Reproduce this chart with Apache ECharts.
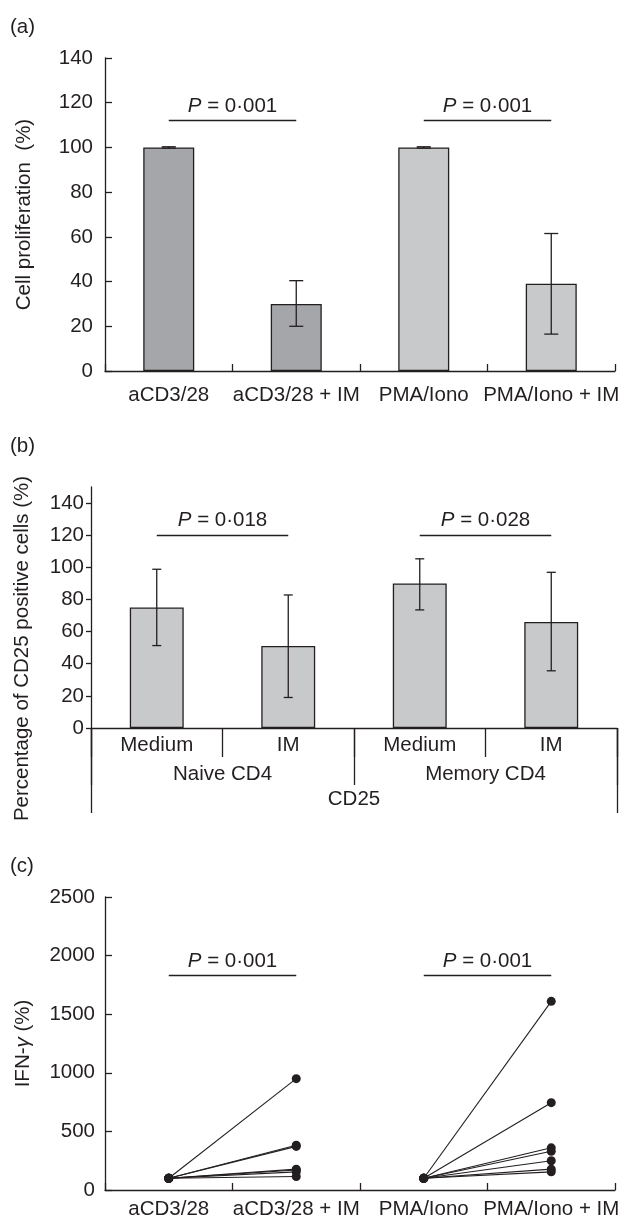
<!DOCTYPE html>
<html>
<head>
<meta charset="utf-8">
<script src="https://cdn.jsdelivr.net/npm/echarts@6/dist/echarts.min.js"></script>
<style>
  html, body { margin: 0; padding: 0; background: #fff; }
  #chart { width: 624px; height: 1220px; }
</style>
</head>
<body>
<div id="chart"></div>
<script>
// ---- data ----
// (a) cell proliferation
var aCats = ['aCD3/28', 'aCD3/28 + IM', 'PMA/Iono', 'PMA/Iono + IM'];
var aMeans = [100, 30, 100, 39];
var aErrLow = [99.7, 20, 99.7, 16.5];
var aErrHigh = [100.3, 40.4, 100.3, 61.5];
var aTicks = [0, 20, 40, 60, 80, 100, 120, 140];
var aPValues = ['0·001', '0·001'];
var aPLevel = 112;

// (b) CD25 positive cells
var bCats = ['Medium', 'IM', 'Medium', 'IM'];
var bGroups = ['Naive CD4', 'Memory CD4'];
var bOuter = ['CD25'];
var bMeans = [75, 51, 90, 66];
var bErrLow = [51.3, 19, 73.5, 35.6];
var bErrHigh = [98.8, 82.8, 105.3, 96.9];
var bTicks = [0, 20, 40, 60, 80, 100, 120, 140];
var bPValues = ['0·018', '0·028'];
var bPLevel = 120;

// (c) IFN-gamma, paired per donor
var cCats = ['aCD3/28', 'aCD3/28 + IM', 'PMA/Iono', 'PMA/Iono + IM'];
var cBase = 100;
var cAcd = [950, 382, 372, 178, 170, 155, 115];
var cPma = [1610, 745, 360, 330, 250, 178, 155];
var cTicks = [0, 500, 1000, 1500, 2000, 2500];
var cPValues = ['0·001', '0·001'];
var cPLevel = 1830;

// ---- styles ----
var ink = '#231f20';
var font = 'Liberation Sans, Arial, sans-serif';
var fs = 20.5;
var darkBar = '#a5a6a9';
var lightBar = '#c8c9cb';

function errorBars(xi, yi, low, high, cap) {
    return {
        type: 'custom',
        xAxisIndex: xi,
        yAxisIndex: yi,
        z: 5,
        silent: true,
        data: low.map(function (v, i) { return [i, v, high[i]]; }),
        encode: { x: 0, y: [1, 2] },
        renderItem: function (params, api) {
            var p1 = api.coord([api.value(0), api.value(1)]);
            var p2 = api.coord([api.value(0), api.value(2)]);
            var s = { stroke: ink, lineWidth: 1.3 };
            return {
                type: 'group',
                children: [
                    { type: 'line', shape: { x1: p1[0], y1: p1[1], x2: p2[0], y2: p2[1] }, style: s },
                    { type: 'line', shape: { x1: p1[0] - cap / 2, y1: p1[1], x2: p1[0] + cap / 2, y2: p1[1] }, style: s },
                    { type: 'line', shape: { x1: p2[0] - cap / 2, y1: p2[1], x2: p2[0] + cap / 2, y2: p2[1] }, style: s }
                ]
            };
        }
    };
}

// empty carrier series holding the P-value bracket lines
function pLines(xi, yi, level, pvals) {
    return {
        type: 'line',
        xAxisIndex: xi,
        yAxisIndex: yi,
        data: [],
        silent: true,
        markLine: {
            silent: true,
            symbol: ['none', 'none'],
            animation: false,
            lineStyle: { color: ink, width: 1.3, type: 'solid' },
            label: {
                show: true,
                position: 'insideMiddleTop',
                distance: 4,
                color: ink,
                fontFamily: font,
                fontSize: fs,
                rich: { i: { fontStyle: 'italic', fontSize: fs, fontFamily: font, color: ink } }
            },
            data: pvals.map(function (p, k) {
                return [
                    { coord: [2 * k, level], label: { formatter: '{i|P} = ' + p } },
                    { coord: [2 * k + 1, level] }
                ];
            })
        }
    };
}

function valueAxis(grid, max, ticks, inside, name, gap, margin, namePad) {
    return {
        type: 'value',
        gridIndex: grid,
        min: 0,
        max: max,
        splitLine: { show: false },
        axisLine: { show: true, lineStyle: { color: ink, width: 1.3 } },
        axisTick: { show: true, inside: inside, length: inside ? 7 : 5,
                    customValues: ticks, lineStyle: { color: ink, width: 1.3 } },
        axisLabel: { customValues: ticks, margin: margin, color: ink, fontFamily: font, fontSize: fs,
                     formatter: function (v) { return String(v); } },
        name: name,
        nameLocation: 'middle',
        nameRotate: 90,
        nameGap: gap,
        nameTextStyle: { color: ink, fontFamily: font, fontSize: fs, padding: namePad || 0,
                         rich: { g: { fontStyle: 'italic', fontFamily: font, fontSize: fs, color: ink } } }
    };
}

function catAxis(grid, cats, opts) {
    return Object.assign({
        type: 'category',
        gridIndex: grid,
        position: 'bottom',
        data: cats,
        axisLine: { show: true, lineStyle: { color: ink, width: 1.3 } },
        axisTick: { show: true, inside: true, length: 7, interval: 0,
                    lineStyle: { color: ink, width: 1.3 } },
        axisLabel: { interval: 0, margin: 14, color: ink, fontFamily: font, fontSize: fs },
        splitLine: { show: false }
    }, opts || {});
}

var series = [
    {
        type: 'bar',
        xAxisIndex: 0,
        yAxisIndex: 0,
        data: aMeans,
        barWidth: '40%',
        itemStyle: {
            color: function (p) { return p.dataIndex < 2 ? darkBar : lightBar; },
            borderColor: ink,
            borderWidth: 1.3
        }
    },
    errorBars(0, 0, aErrLow, aErrHigh, 14),
    pLines(0, 0, aPLevel, aPValues),
    {
        type: 'bar',
        xAxisIndex: 1,
        yAxisIndex: 1,
        data: bMeans,
        barWidth: '41%',
        itemStyle: { color: lightBar, borderColor: ink, borderWidth: 1.3 }
    },
    errorBars(1, 1, bErrLow, bErrHigh, 9),
    pLines(1, 1, bPLevel, bPValues)
];

function pairSeries(values, offset) {
    values.forEach(function (v) {
        var d = ['-', '-', '-', '-'];
        d[offset] = cBase;
        d[offset + 1] = v;
        series.push({
            type: 'line',
            xAxisIndex: 4,
            yAxisIndex: 2,
            data: d,
            symbol: 'circle',
            symbolSize: 9,
            showSymbol: true,
            lineStyle: { color: ink, width: 1.1 },
            itemStyle: { color: ink },
            silent: true
        });
    });
}
pairSeries(cAcd, 0);
pairSeries(cPma, 2);
series.push(pLines(4, 2, cPLevel, cPValues));

var panelTitle = { color: ink, fontFamily: font, fontSize: fs, fontWeight: 'normal' };

var chart = echarts.init(document.getElementById('chart'), null, { renderer: 'canvas' });
chart.setOption({
    animation: false,
    backgroundColor: '#fff',
    textStyle: { fontFamily: font },
    title: [
        { text: '(a)', left: 10, top: 17, padding: 0, textStyle: panelTitle },
        { text: '(b)', left: 10, top: 436, padding: 0, textStyle: panelTitle },
        { text: '(c)', left: 10, top: 856, padding: 0, textStyle: panelTitle }
    ],
    grid: [
        { left: 105, right: 9, top: 58, height: 313 },
        { left: 91, right: 7, top: 487, height: 241 },
        { left: 105, right: 9, top: 897, height: 294 }
    ],
    xAxis: [
        catAxis(0, aCats),
        catAxis(1, bCats, {
            axisTick: { show: true, inside: false, length: 29, interval: 0, lineStyle: { color: ink, width: 1.3 } },
            axisLabel: { interval: 0, margin: 7, color: ink, fontFamily: font, fontSize: fs }
        }),
        catAxis(1, bGroups, {
            axisLine: { show: false },
            axisTick: { show: true, inside: false, length: 57, interval: 0, lineStyle: { color: ink, width: 1.3 } },
            axisLabel: { interval: 0, margin: 36, color: ink, fontFamily: font, fontSize: fs }
        }),
        catAxis(1, bOuter, {
            axisLine: { show: false },
            axisTick: { show: true, inside: false, length: 85, interval: 0, lineStyle: { color: ink, width: 1.3 } },
            axisLabel: { interval: 0, margin: 61, color: ink, fontFamily: font, fontSize: fs }
        }),
        catAxis(2, cCats, {
            axisLabel: { interval: 0, margin: 9, color: ink, fontFamily: font, fontSize: fs }
        })
    ],
    yAxis: [
        valueAxis(0, 140, aTicks, true, 'Cell proliferation  (%)', 70, 12),
        valueAxis(1, 150, bTicks, false, 'Percentage of CD25 positive cells (%)', 58, 7, [0, 82, 0, 0]),
        valueAxis(2, 2500, cTicks, true, 'IFN-{g|γ} (%)', 71, 10)
    ],
    series: series
});
</script>
</body>
</html>
